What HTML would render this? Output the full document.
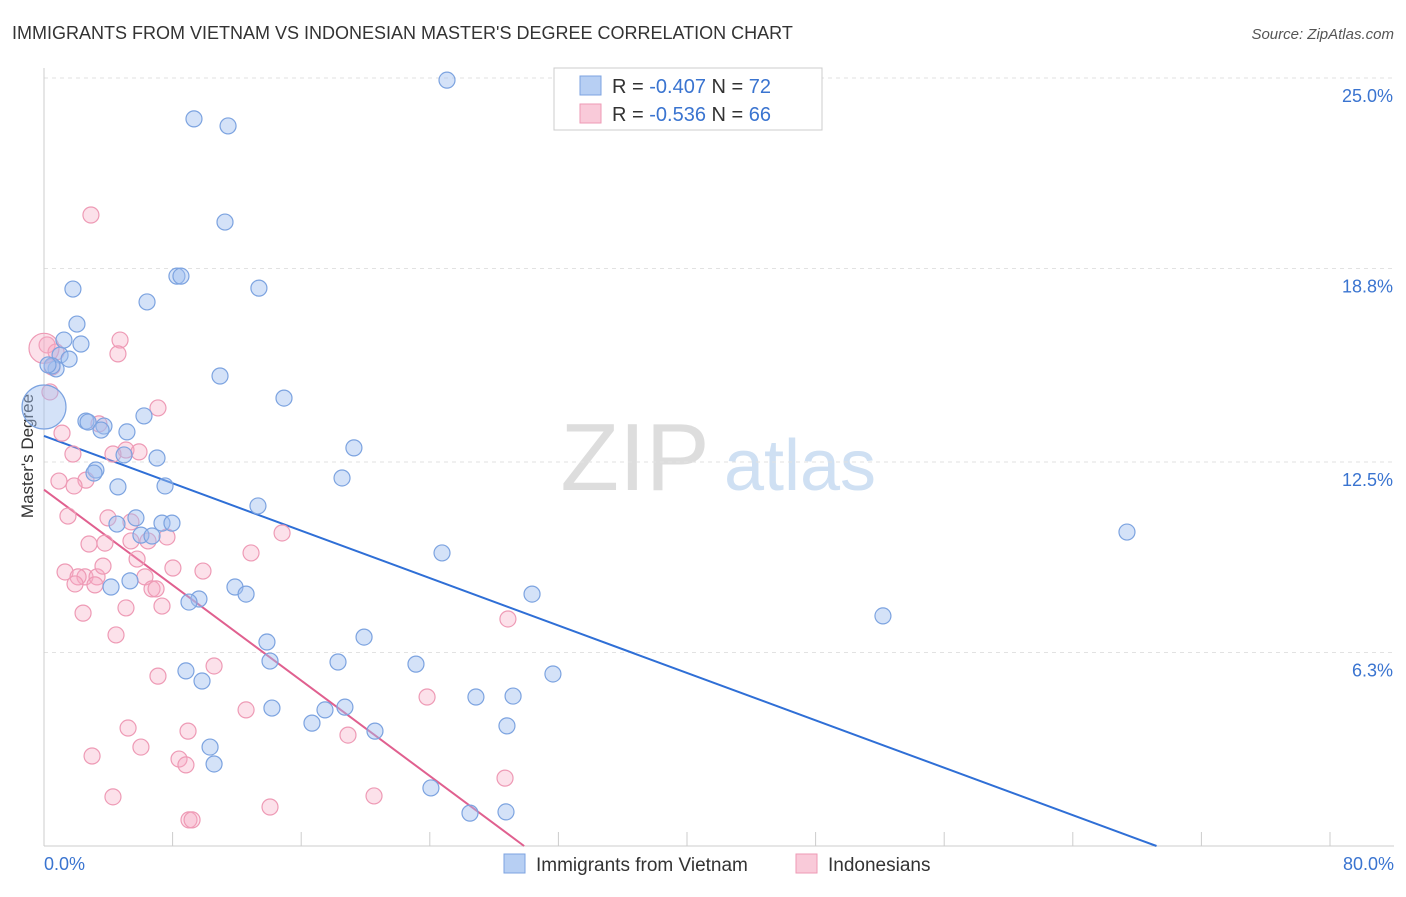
<!DOCTYPE html>
<html><head><meta charset="utf-8"><style>
body{margin:0;background:#fff;font-family:"Liberation Sans",sans-serif}
svg text{font-family:"Liberation Sans",sans-serif}
</style></head><body>
<svg id="chart" width="1406" height="892" xmlns="http://www.w3.org/2000/svg">
<text x="12" y="39" font-size="18" fill="#333">IMMIGRANTS FROM VIETNAM VS INDONESIAN MASTER'S DEGREE CORRELATION CHART</text>
<text x="1394" y="39" font-size="15" fill="#555" text-anchor="end" font-style="italic">Source: ZipAtlas.com</text>
<text x="33" y="456" font-size="17" fill="#333" text-anchor="middle" transform="rotate(-90 33 456)">Master's Degree</text>
<g>
<text x="635" y="490" font-size="96" fill="#ddd" text-anchor="middle" font-family="Liberation Serif">ZIP</text>
<text x="800" y="490" font-size="72" fill="#cfe0f3" text-anchor="middle">atlas</text>
</g>
<g id="grid"></g><g id="axes"></g><g id="lines"></g><g id="pts"></g>
<g>
<rect x="554" y="68" width="268" height="62" fill="#fff" stroke="#ccc"/>
<rect x="580" y="76" width="21" height="19" fill="#b7cff3" stroke="#7ca3e0"/>
<rect x="580" y="104" width="21" height="19" fill="#f9cad9" stroke="#ee9ab5"/>
<text x="612" y="93" font-size="20" fill="#333">R = <tspan fill="#3a74d0">-0.407</tspan>   N = <tspan fill="#3a74d0">72</tspan></text>
<text x="612" y="121" font-size="20" fill="#333">R = <tspan fill="#3a74d0">-0.536</tspan>   N = <tspan fill="#3a74d0">66</tspan></text>
</g>
<g>
<rect x="504" y="854" width="21" height="19" fill="#b7cff3" stroke="#7ca3e0"/>
<text x="536" y="871" font-size="19" fill="#333">Immigrants from Vietnam</text>
<rect x="796" y="854" width="21" height="19" fill="#f9cad9" stroke="#ee9ab5"/>
<text x="828" y="871" font-size="19" fill="#333">Indonesians</text>
</g>
</svg>
<script>
const blueX=[25.07,9.33,11.45,11.26,8.27,8.52,13.37,1.80,6.41,2.05,1.24,2.30,1.00,1.56,0.75,0.50,10.95,14.93,6.22,2.61,2.74,3.73,3.55,5.16,19.28,7.03,4.98,3.23,3.11,18.54,7.53,4.60,13.31,5.72,7.34,7.96,4.54,6.03,6.72,24.76,67.37,11.88,5.35,4.17,12.57,9.64,9.02,30.36,52.19,19.91,13.87,14.06,18.29,23.14,8.83,9.83,31.66,26.87,29.18,14.18,17.48,18.72,16.67,28.80,20.59,10.33,10.58,24.07,26.50,28.74,0.25,0];
const blueY=[24.93,23.67,23.44,20.31,18.55,18.55,18.16,18.13,17.71,16.99,16.47,16.34,15.98,15.85,15.53,15.63,15.30,14.58,14.00,13.83,13.80,13.67,13.54,13.48,12.96,12.63,12.73,12.24,12.14,11.98,11.72,11.69,11.07,10.68,10.51,10.51,10.48,10.12,10.09,9.54,10.22,8.43,8.63,8.43,8.20,8.04,7.94,8.20,7.49,6.80,6.64,6.02,5.99,5.92,5.70,5.37,5.60,4.85,4.88,4.49,4.43,4.52,4.00,3.91,3.74,3.22,2.67,1.89,1.07,1.11,15.66,14.29];
const pinkX=[2.92,0.19,4.73,4.60,0.75,0.50,0.37,7.09,1.12,3.42,5.10,5.91,4.29,1.80,0.93,2.61,1.87,1.49,3.98,5.41,14.81,2.80,3.79,5.41,7.65,6.47,12.88,5.79,8.02,9.89,1.31,2.55,3.30,2.12,3.67,1.93,3.17,6.28,6.72,6.97,5.10,7.34,2.43,28.86,4.48,10.58,7.09,23.83,12.57,5.23,8.96,18.91,6.03,2.99,8.40,8.83,28.68,4.29,20.53,14.06,9.02,9.21,0];
const pinkY=[20.54,16.31,16.47,16.02,16.08,15.59,14.78,14.26,13.44,13.74,12.89,12.83,12.76,12.76,11.88,11.91,11.72,10.74,10.68,10.55,10.19,9.83,9.86,9.93,10.06,9.93,9.54,9.34,9.05,8.95,8.92,8.76,8.76,8.76,9.11,8.53,8.50,8.76,8.37,8.37,7.75,7.81,7.58,7.39,6.87,5.86,5.53,4.85,4.43,3.84,3.74,3.61,3.22,2.93,2.83,2.64,2.21,1.60,1.63,1.27,0.85,0.85,16.2];
const yTicks=[25.0,18.8,12.5,6.3];
const yTickLabels=["25.0%","18.8%","12.5%","6.3%"];
const xTicks=[0,8,16,24,32,40,48,56,64,72,80];
const trendBlue=[13.35,-0.1929];
const trendPink=[11.6,-0.3884];
const NS='http://www.w3.org/2000/svg';
const X=v=>44+v*16.075, Y=v=>846-v*30.72;
function mk(t,a,p){const e=document.createElementNS(NS,t);for(const k in a)e.setAttribute(k,a[k]);p.appendChild(e);return e;}
const grid=document.getElementById('grid'),axes=document.getElementById('axes'),lines=document.getElementById('lines'),pts=document.getElementById('pts');
mk('line',{x1:44,y1:68,x2:44,y2:846,stroke:'#ccc'},axes);
mk('line',{x1:44,y1:846,x2:1394,y2:846,stroke:'#ccc'},axes);
yTicks.forEach((v,i)=>{
 const g=mk('line',{x1:44,y1:Y(v),x2:1394,y2:Y(v),stroke:'#e2e2e2','stroke-dasharray':'4 4'},grid);
 
 
 const t=mk('text',{x:1393,y:Y(v)+24,'font-size':18,fill:'#3a74d0','text-anchor':'end'},axes);
 t.textContent=yTickLabels[i];
 
 
});
const g0=mk('line',{x1:44,y1:78,x2:1394,y2:78,stroke:'#e2e2e2','stroke-dasharray':'4 4'},grid);
xTicks.forEach(v=>{
 const t=mk('line',{x1:X(v),y1:832,x2:X(v),y2:846,stroke:'#ccc'},axes);
 
 
});
let tl=mk('text',{x:44,y:870,'font-size':18,fill:'#3a74d0'},axes);tl.textContent='0.0%';


tl=mk('text',{x:1394,y:870,'font-size':18,fill:'#3a74d0','text-anchor':'end'},axes);tl.textContent='80.0%';


function dots(xs,ys,fill,stroke,name){
 xs.forEach((x,i)=>{
  const big=(x===0);
  const c=mk('circle',{cx:X(x),cy:Y(ys[i]),r:big?(name==='blue-point'?22:15):8,fill:fill,stroke:stroke,'stroke-width':1.2},pts);
  
  
 });
}
dots(pinkX,pinkY,'rgba(245,170,195,0.35)','#ee9ab5','pink-point');
dots(blueX,blueY,'rgba(160,190,240,0.45)','#7ca3e0','blue-point');
function trend(tr,col,name){
 const x2=-tr[0]/tr[1];
 const l=mk('line',{x1:X(0),y1:Y(tr[0]),x2:X(x2),y2:Y(0),stroke:col,'stroke-width':2},lines);
 
 
}
trend(trendBlue,'#2f6fd6','blue-trend-line');
trend(trendPink,'#e0608f','pink-trend-line');
</script>
</body></html>
